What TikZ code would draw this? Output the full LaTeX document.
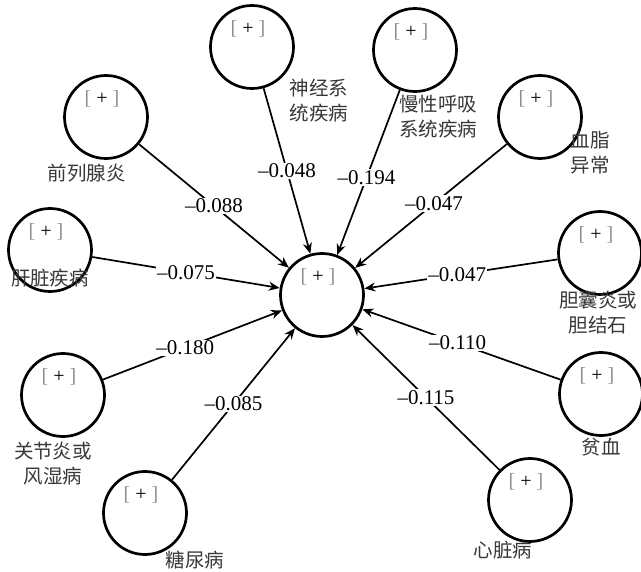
\documentclass[tikz,border=0pt]{standalone}
\usepackage{fontspec}
\setmainfont{Liberation Serif}
\newfontfamily\cjk{Noto Sans CJK SC}
\usetikzlibrary{arrows.meta}
\newcommand\plusmark{{\color{black!45}[}\hspace{5pt}+\hspace{5pt}{\color{black!45}]}}
\begin{document}
\begin{tikzpicture}[x=1pt,y=-1pt,
  lv/.style={circle,draw,line width=2.7pt,minimum size=83pt,inner sep=0pt},
  arr/.style={line width=1.7pt,-{Stealth[length=11pt,width=9pt]}},
  lbl/.style={fill=white,inner sep=1pt,font=\fontsize{21}{22}\selectfont},
  cn/.style={font=\cjk\fontsize{19.5}{25}\selectfont,text=black!78,inner sep=0pt},
  pmark/.style={font=\fontsize{20}{22}\selectfont,inner sep=0pt}
]
\useasboundingbox (0,0) rectangle (641,572);

\node[lv] (c) at (322,295) {};
\node[lv] (s1) at (252,47) {};
\node[lv] (s2) at (415,50) {};
\node[lv] (s3) at (540,117) {};
\node[lv] (s4) at (106,117) {};
\node[lv] (s5) at (50,250) {};
\node[lv] (s6) at (600,253) {};
\node[lv] (s7) at (63,395) {};
\node[lv] (s8) at (601,394) {};
\node[lv] (s9) at (145,513) {};
\node[lv] (s10) at (530,500) {};

\foreach \n in {c,s1,s2,s3,s4,s5,s6,s7,s8,s9,s10}
  \node[pmark] (p\n) at ([xshift=-4pt,yshift=18pt]\n.center) {\plusmark};

\node[cn,align=left] (t1) at (319,101) {神经系\\统疾病};
\node[cn,align=left] (t2) at (438,117) {慢性呼吸\\系统疾病};
\node[cn,align=left] (t3) at (590,153) {血脂\\异常};
\node[cn] (t4) at (87,173) {前列腺炎};
\node[cn] (t5) at (50,278) {肝脏疾病};
\node[cn,align=center] (t6) at (598,313) {胆囊炎或\\胆结石};
\node[cn,align=center] (t7) at (53,464) {关节炎或\\风湿病};
\node[cn] (t8) at (601,447) {贫血};
\node[cn] (t9) at (195,560) {糖尿病};
\node[cn] (t10) at (503,550) {心脏病};

\draw[arr] (s1) -- node[lbl,pos=0.5] {\textendash0.048} (c);
\draw[arr] (s2) -- node[lbl,pos=0.53] {\textendash0.194} (c);
\draw[arr] (s3) -- node[lbl,pos=0.48] {\textendash0.047} (c);
\draw[arr] (s4) -- node[lbl,pos=0.5] {\textendash0.088} (c);
\draw[arr] (s5) -- node[lbl,pos=0.5] {\textendash0.075} (c);
\draw[arr] (s6) -- node[lbl,pos=0.52] {\textendash0.047} (c);
\draw[arr] (s7) -- node[lbl,pos=0.46] {\textendash0.180} (c);
\draw[arr] (s8) -- node[lbl,pos=0.52] {\textendash0.110} (c);
\draw[arr] (s9) -- node[lbl,pos=0.5] {\textendash0.085} (c);
\draw[arr] (s10) -- node[lbl,pos=0.5] {\textendash0.115} (c);
\end{tikzpicture}
\end{document}
